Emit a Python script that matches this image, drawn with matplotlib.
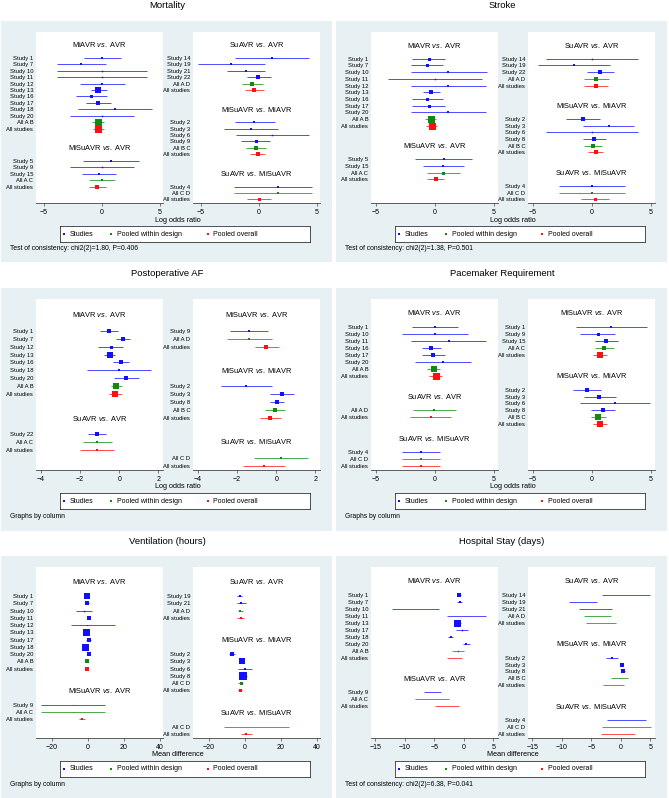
import matplotlib
matplotlib.use("Agg")
import matplotlib.pyplot as plt
from matplotlib.patches import Rectangle
from matplotlib.transforms import blended_transform_factory

plt.rcParams['font.family'] = ['Liberation Sans', 'DejaVu Sans']
plt.rcParams['mathtext.fontset'] = 'custom'
plt.rcParams['mathtext.rm'] = 'Liberation Sans'
plt.rcParams['mathtext.it'] = 'Liberation Sans:italic'

# each row: (label, estimate, lower, upper, box size in px)
mort_left = [
    ("MiAVR vs. AVR", [
        ("Study 1", 0.03, -1.57, 1.63, 2), ("Study 7", -1.77, -3.84, 0.35, 2),
        ("Study 10", 0.03, -3.84, 3.95, 1.5), ("Study 11", 0.03, -3.84, 3.95, 1.5),
        ("Study 12", 0.03, -1.92, 2.0, 2), ("Study 13", -0.29, -0.96, 0.41, 6),
        ("Study 16", -0.9, -2.24, 0.47, 3), ("Study 17", -0.29, -1.34, 0.81, 3.5),
        ("Study 18", 1.13, -2.06, 4.33, 2), ("Study 20", 0.03, -2.73, 2.79, 1.5),
        ("All A B", -0.32, -0.81, 0.17, 7), ("All studies", -0.29, -0.76, 0.17, 7)]),
    ("MiSuAVR vs. AVR", [
        ("Study 5", 0.78, -1.63, 3.2, 2), ("Study 9", 0.03, -2.73, 2.79, 1.5),
        ("Study 15", -0.26, -1.74, 1.25, 2.5), ("All A C", 0.03, -1.1, 1.13, 2.5),
        ("All studies", -0.41, -1.13, 0.32, 4)]),
]
mort_right = [
    ("SuAVR vs. AVR", [
        ("Study 14", 1.18, -2.04, 4.34, 2), ("Study 19", -2.41, -5.26, 0.52, 2),
        ("Study 21", -1.15, -2.79, 0.52, 2.5), ("Study 22", -0.11, -1.06, 1.09, 3.5),
        ("All A D", -0.55, -1.44, 0.37, 4), ("All studies", -0.4, -1.21, 0.46, 4)]),
    ("MiSuAVR vs. MiAVR", [
        ("Study 2", -0.4, -2.04, 1.38, 2), ("Study 3", -0.69, -3.02, 1.67, 2),
        ("Study 6", 1.18, -1.98, 4.34, 1.5), ("Study 9", -0.26, -1.52, 1.0, 3),
        ("All B C", -0.26, -1.15, 0.66, 4), ("All studies", -0.11, -0.78, 0.57, 5)]),
    ("SuAVR vs. MiSuAVR", [
        ("Study 4", 1.64, -2.13, 4.63, 2), ("All C D", 1.64, -2.13, 4.63, 2),
        ("All studies", 0.03, -1.03, 1.09, 3)]),
]

stroke_left = [
    ("MiAVR vs. AVR", [
        ("Study 1", -0.53, -1.94, 0.9, 3), ("Study 7", -0.7, -2.02, 0.67, 3),
        ("Study 10", 1.15, -2.02, 4.38, 2), ("Study 11", 0.0, -3.93, 3.96, 1.5),
        ("Study 12", 1.15, -2.02, 4.33, 2), ("Study 13", -0.28, -1.04, 0.45, 5),
        ("Study 16", -0.65, -1.94, 0.67, 3), ("Study 17", -0.53, -1.94, 0.9, 3),
        ("Study 20", 1.15, -2.02, 4.33, 2), ("All A B", -0.34, -0.84, 0.14, 7),
        ("All studies", -0.25, -0.73, 0.22, 7)]),
    ("MiSuAVR vs. AVR", [
        ("Study 5", 0.76, -1.66, 3.17, 2.5), ("Study 15", 0.7, -1.01, 2.44, 2.5),
        ("All A C", 0.73, -0.65, 2.13, 3), ("All studies", 0.06, -0.65, 0.76, 5)]),
]
stroke_right = [
    ("SuAVR vs. AVR", [
        ("Study 14", 0.0, -3.91, 3.94, 1.5), ("Study 19", -1.54, -4.55, 1.54, 2),
        ("Study 22", 0.7, -0.42, 1.87, 4), ("All A D", 0.39, -0.67, 1.48, 4),
        ("All studies", 0.34, -0.64, 1.34, 4)]),
    ("MiSuAVR vs. MiAVR", [
        ("Study 2", -0.73, -2.15, 0.7, 3.5), ("Study 3", 1.42, -0.75, 3.58, 2.5),
        ("Study 6", 0.0, -3.91, 3.94, 1.5), ("Study 8", 0.22, -0.75, 1.2, 4),
        ("All B C", 0.08, -0.67, 0.84, 5), ("All studies", 0.34, -0.31, 0.92, 5)]),
    ("SuAVR vs. MiSuAVR", [
        ("Study 4", 0.0, -2.74, 2.79, 2), ("All C D", 0.0, -2.74, 2.79, 2),
        ("All studies", 0.28, -0.92, 1.48, 3)]),
]

af_left = [
    ("MiAVR vs. AVR", [
        ("Study 1", -0.53, -0.98, -0.07, 4), ("Study 7", 0.17, -0.17, 0.54, 5),
        ("Study 12", -0.44, -1.07, 0.17, 3), ("Study 13", -0.47, -0.78, -0.19, 6),
        ("Study 16", 0.1, -0.31, 0.51, 4.5), ("Study 18", -0.02, -1.63, 1.63, 2),
        ("Study 20", 0.37, -0.25, 1.02, 3.5), ("All A B", -0.14, -0.44, 0.15, 6),
        ("All studies", -0.2, -0.54, 0.14, 5.5)]),
    ("SuAVR vs. AVR", [
        ("Study 22", -1.12, -1.58, -0.68, 5), ("All A C", -1.14, -1.86, -0.39, 2.5),
        ("All studies", -1.14, -2.0, -0.25, 2.5)]),
]
af_right = [
    ("MiSuAVR vs. AVR", [
        ("Study 9", -1.39, -2.37, -0.41, 2.5), ("All A D", -1.39, -2.51, -0.2, 2.5),
        ("All studies", -0.51, -1.1, 0.14, 3.5)]),
    ("MiSuAVR vs. MiAVR", [
        ("Study 2", -1.53, -2.81, -0.2, 2), ("Study 3", 0.29, -0.31, 0.9, 4),
        ("Study 8", 0.03, -0.34, 0.42, 5), ("All B C", -0.08, -0.59, 0.46, 4),
        ("All studies", -0.31, -0.85, 0.25, 4)]),
    ("SuAVR vs. MiSuAVR", [
        ("All C D", 0.25, -1.12, 1.64, 2), ("All studies", -0.63, -1.69, 0.46, 2.5)]),
]

pace_left = [
    ("MiAVR vs. AVR", [
        ("Study 1", 0.03, -1.89, 1.95, 2.5), ("Study 10", 0.03, -2.73, 2.76, 2.5),
        ("Study 11", 1.17, -1.98, 4.35, 2), ("Study 16", -0.31, -1.09, 0.53, 4.5),
        ("Study 17", -0.14, -1.09, 0.86, 4.5), ("Study 20", 0.7, -1.67, 3.09, 2.5),
        ("All A B", -0.08, -0.64, 0.47, 6.5), ("All studies", 0.06, -0.53, 0.64, 7)]),
    ("SuAVR vs. AVR", [
        ("All A D", -0.06, -1.87, 1.75, 2.5), ("All studies", -0.33, -2.09, 1.39, 2.5)]),
    ("SuAVR vs. MiSuAVR", [
        ("Study 4", -1.17, -2.79, 0.47, 2.5), ("All C D", -1.17, -2.79, 0.47, 2.5),
        ("All studies", -1.17, -2.79, 0.47, 2.5)]),
]
pace_right = [
    ("MiSuAVR vs. AVR", [
        ("Study 1", 1.62, -1.37, 4.64, 2), ("Study 9", 0.5, -0.98, 1.98, 3),
        ("Study 15", 1.23, 0.28, 2.21, 4), ("All A C", 1.03, 0.28, 1.84, 5),
        ("All studies", 0.73, 0.14, 1.31, 6)]),
    ("MiSuAVR vs. MiAVR", [
        ("Study 2", -0.42, -1.56, 0.75, 4), ("Study 3", 0.64, -0.67, 2.04, 3.5),
        ("Study 6", 1.96, -0.98, 4.92, 2), ("Study 8", 0.95, -0.06, 1.96, 4.5),
        ("All B C", 0.5, -0.08, 1.17, 6), ("All studies", 0.7, 0.11, 1.26, 6.5)]),
]

vent_left = [
    ("MiAVR vs. AVR", [
        ("Study 1", -0.7, -1.8, 0.6, 6), ("Study 7", -0.55, -1.6, 0.7, 4.5),
        ("Study 10", -2.2, -6.8, 2.6, 1.5), ("Study 11", 0.4, -0.4, 1.3, 4),
        ("Study 12", -0.2, -9.5, 15.2, 1), ("Study 13", -1.1, -2.6, 0.4, 7),
        ("Study 17", 0.4, -0.8, 1.7, 5), ("Study 18", -1.5, -3.1, 0.2, 7),
        ("Study 20", 0.4, -0.4, 1.3, 4), ("All A B", -0.55, -1.1, 0.2, 3.5),
        ("All studies", -0.55, -1.3, 0.2, 3.5)]),
    ("MiSuAVR vs. AVR", [
        ("Study 9", -8.3, -25.9, 9.4, 0.5), ("All A C", -8.2, -25.9, 9.5, 0.5),
        ("All studies", -3.1, -5.0, -1.3, 2.5)]),
]
vent_right = [
    ("SuAVR vs. AVR", [
        ("Study 19", -2.8, -4.5, -1.3, 2.5), ("Study 21", -2.1, -4.3, 0.4, 2.5),
        ("All A D", -2.4, -3.9, -0.75, 2.5), ("All studies", -2.25, -4.1, -0.2, 2.5)]),
    ("MiSuAVR vs. MiAVR", [
        ("Study 2", -7.1, -8.6, -5.4, 3.5), ("Study 3", -1.5, -2.6, -0.3, 6),
        ("Study 6", 0.0, -3.75, 3.75, 2), ("Study 8", -0.9, -2.8, 1.0, 8),
        ("All C D", -2.25, -3.6, -1.1, 3), ("All studies", -2.6, -3.75, -1.3, 3)]),
    ("SuAVR vs. MiSuAVR", [
        ("All C D", 6.5, -11.8, 24.8, 0), ("All studies", 0.75, -2.1, 4.1, 2)]),
]

hosp_left = [
    ("MiAVR vs. AVR", [
        ("Study 1", -0.73, -0.95, -0.5, 3.5), ("Study 7", -0.67, -1.07, -0.28, 2),
        ("Study 10", -8.1, -12.08, -4.2, 0), ("Study 11", 0.45, -2.8, 3.7, 0.5),
        ("Study 13", -1.07, -1.63, -0.5, 7), ("Study 17", -0.34, -1.35, 0.73, 1.5),
        ("Study 18", -2.19, -2.58, -1.8, 2), ("Study 20", 0.45, -0.11, 1.07, 2.5),
        ("All A B", -1.01, -2.02, 0.0, 1.5), ("All studies", -1.5, -2.8, -0.22, 0)]),
    ("MiSuAVR vs. AVR", [
        ("Study 9", -5.28, -6.74, -3.82, 0), ("All A C", -5.3, -8.2, -2.42, 0),
        ("All studies", -2.8, -4.83, -0.84, 0)]),
]
hosp_right = [
    ("SuAVR vs. AVR", [
        ("Study 14", 0.9, -3.13, 4.9, 0), ("Study 19", -6.4, -8.77, -3.99, 0),
        ("Study 21", -4.3, -7.07, -1.54, 0), ("All A D", -4.0, -6.27, -1.71, 0),
        ("All studies", -3.3, -5.81, -0.85, 0)]),
    ("MiSuAVR vs. MiAVR", [
        ("Study 2", -1.54, -2.45, -0.4, 2), ("Study 3", 0.23, 0.06, 0.4, 3.5),
        ("Study 8", 0.46, 0.23, 0.68, 3.5), ("All B C", -0.15, -1.6, 1.31, 0),
        ("All studies", -1.2, -3.02, 0.57, 0)]),
    ("SuAVR vs. MiSuAVR", [
        ("Study 4", 0.97, -2.39, 4.33, 0), ("All C D", 0.97, -3.19, 5.13, 0),
        ("All studies", -0.5, -3.42, 2.39, 0)]),
]

titles = ["Mortality", "Stroke", "Postoperative AF", "Pacemaker Requirement",
          "Ventilation (hours)", "Hospital Stay (days)"]
xlabels = ["Log odds ratio", "Log odds ratio", "Log odds ratio", "Log odds ratio",
           "Mean difference", "Mean difference"]
notes = ["Test of consistency: chi2(2)=1.80, P=0.406",
         "Test of consistency: chi2(2)=1.38, P=0.501",
         "Graphs by column", "Graphs by column", "Graphs by column",
         "Test of consistency: chi2(2)=6.38, P=0.041"]
xticks = [[-5, 0, 5], [-5, 0, 5], [-4, -2, 0, 2], [-5, 0, 5],
          [-20, 0, 20, 40], [-15, -10, -5, 0, 5]]
xlims = [(-5.7, 5.3), (-5.4, 5.35), (-4.24, 2.23), (-5.38, 5.33),
         (-28.8, 41.8), (-15.7, 5.8)]
columns = [(mort_left, mort_right), (stroke_left, stroke_right), (af_left, af_right),
           (pace_left, pace_right), (vent_left, vent_right), (hosp_left, hosp_right)]

W, H = 669, 798
BLUE, GREEN, RED = '#1010ff', '#108a10', '#ff1010'
BG = '#e7f0f2'

fig = plt.figure(figsize=(W / 100, H / 100), dpi=100)


def box(x0, y0, x1, y1):
    return [x0 / W, 1 - y1 / H, (x1 - x0) / W, (y1 - y0) / H]


def layout(groups):
    heads, rows = [], []
    pos = -2
    for head, items in groups:
        heads.append((head, pos))
        for i, it in enumerate(items):
            rows.append((pos + 2 + i,) + it)
        pos = pos + 2 + len(items) + 2
    return heads, rows


def colour(label):
    if label.startswith("Study"):
        return BLUE
    if label == "All studies":
        return RED
    return GREEN


def head_text(h):
    a, b = h.split(" vs. ")
    return a + r" $\it{vs.}$ " + b


for k in range(6):
    px = 0 if k % 2 == 0 else 335
    py = [0, 267, 535][k // 2]
    bottom_bg = [262, 531, 798][k // 2]
    fig.patches.append(Rectangle((px / W + 0.0015, 1 - bottom_bg / H), 331 / W,
                                 (bottom_bg - py - 21) / H, transform=fig.transFigure,
                                 facecolor=BG, edgecolor='none', zorder=-10))
    fig.text((px + 167) / W, 1 - (py + 6) / H, titles[k], ha='center', va='center',
             fontsize=6.8)

    lay = [layout(g) for g in columns[k]]
    nmax = max(r[0] for _, rows in lay for r in rows)
    for c, (heads, rows) in enumerate(lay):
        x0 = px + (36 if c == 0 else 193)
        ax = fig.add_axes(box(x0, py + 32, x0 + 127, py + 203))
        ax.set_zorder(2)
        ax.set_xlim(*xlims[k])
        ax.set_ylim(nmax + 0.55, -4.0)
        for r, lab, est, lo, hi, w in rows:
            col = colour(lab)
            ax.plot([lo, hi], [r, r], color=col, lw=0.7, alpha=0.75, solid_capstyle='butt')
            if w > 0:
                ax.plot(est, r, marker='s', ms=w * 0.72, color=col, mew=0)
        tr = blended_transform_factory(ax.transAxes, ax.transData)
        for h, hr in heads:
            ax.text(0.5, hr, head_text(h), transform=tr, ha='center', va='center',
                    fontsize=5.3)
        ax.set_yticks([r[0] for r in rows])
        ax.set_yticklabels([r[1] for r in rows], fontsize=4.2)
        ax.tick_params(axis='y', length=0, pad=2)
        ax.set_xticks(xticks[k])
        ax.tick_params(axis='x', labelsize=5, length=2.5, width=0.5, pad=1.5,
                       color='#444444')
        for s in ['top', 'right', 'left']:
            ax.spines[s].set_visible(False)
        ax.spines['bottom'].set_linewidth(0.6)
        ax.spines['bottom'].set_color('#444444')

    fig.text((px + 178) / W, 1 - (py + 220) / H, xlabels[k], ha='center', va='center',
             fontsize=5.2)

    lg = fig.add_axes(box(px + 60, py + 226, px + 310, py + 242))
    lg.set_zorder(2)
    lg.set_xlim(0, 1)
    lg.set_ylim(0, 1)
    lg.set_xticks([])
    lg.set_yticks([])
    for s in lg.spines.values():
        s.set_linewidth(0.6)
        s.set_color('#333333')
    for xm, col, txt in [(0.015, BLUE, "Studies"), (0.205, GREEN, "Pooled within design"),
                         (0.59, RED, "Pooled overall")]:
        lg.plot(xm, 0.5, marker='s', ms=1.6, color=col, mew=0)
        lg.text(xm + 0.022, 0.5, txt, ha='left', va='center', fontsize=5)

    fig.text((px + 10) / W, 1 - (py + 249) / H, notes[k], ha='left', va='center',
             fontsize=4.9)

fig.savefig("out.png", dpi=100)
